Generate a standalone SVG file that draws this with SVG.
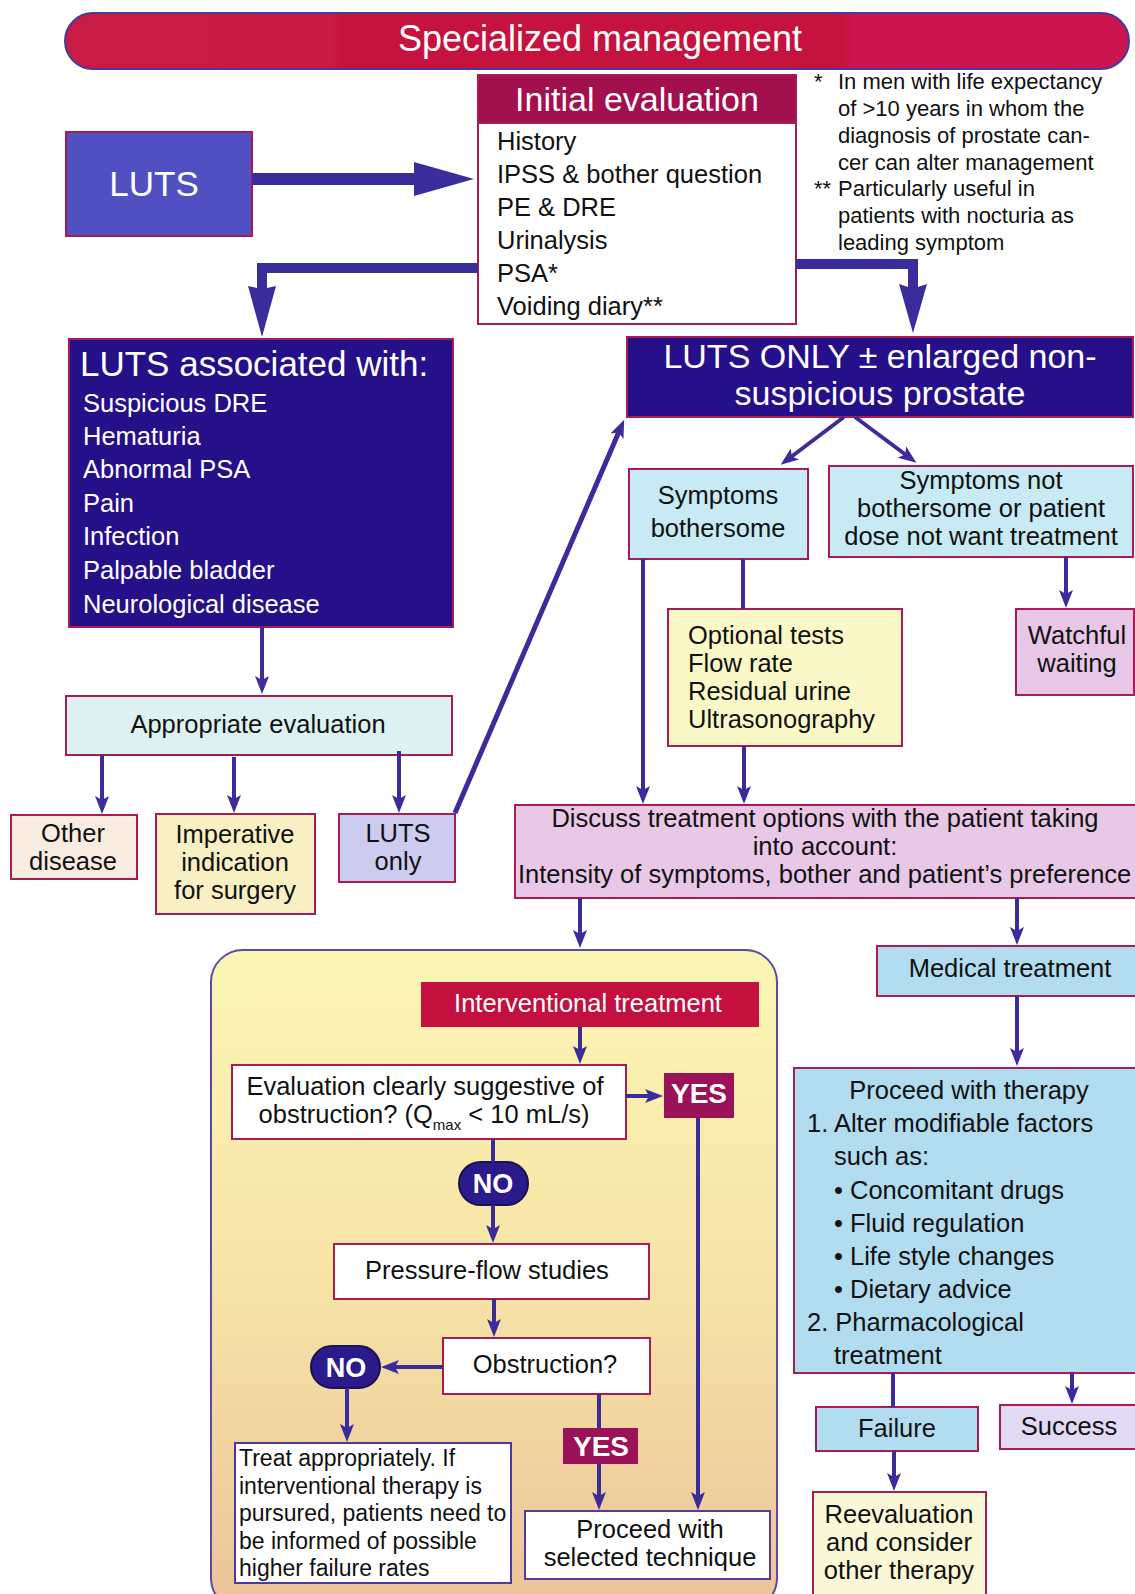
<svg xmlns="http://www.w3.org/2000/svg" width="1135" height="1594" viewBox="0 0 1135 1594">
<defs>
<linearGradient id="banner" x1="0" y1="0" x2="1" y2="0">
<stop offset="0" stop-color="#c81c46"/>
<stop offset="0.25" stop-color="#c81a46"/>
<stop offset="0.26" stop-color="#c5123e"/>
<stop offset="0.73" stop-color="#c5123e"/>
<stop offset="0.74" stop-color="#cc1450"/>
<stop offset="1" stop-color="#cc1450"/>
</linearGradient>
<linearGradient id="region" x1="0" y1="0" x2="0" y2="1">
<stop offset="0" stop-color="#fbf6b4"/>
<stop offset="0.5" stop-color="#f6e4a6"/>
<stop offset="1" stop-color="#ecc39a"/>
</linearGradient>
<marker id="ah" markerUnits="userSpaceOnUse" markerWidth="18" markerHeight="14" refX="10" refY="7" orient="auto">
<path d="M0,0 L18,7 L0,14 L4,7 z" fill="#3b2c9c"/>
</marker>
<style>
text{font-family:"Liberation Sans",Arial,sans-serif;}
.w{fill:#fff;}
.k{fill:#111;}
.t{font-size:25.5px;}
.m{text-anchor:middle;}
.b{font-weight:bold;}
.box{stroke:#a81c55;stroke-width:2;}
.con line,.con path{stroke:#3b2c9c;stroke-width:4;fill:none;}
.arr{marker-end:url(#ah);}
</style>
</defs>
<rect width="1135" height="1594" fill="#fff"/>

<g id="banner">
<rect x="65" y="13" width="1064" height="56" rx="28" fill="url(#banner)" stroke="#4a3a9a" stroke-width="2"/>
<text x="600" y="51" class="w m" font-size="36">Specialized management</text>
</g>

<g id="luts">
<rect x="66" y="132" width="186" height="104" fill="#5050c2" class="box" stroke-width="3"/>
<text x="154" y="196" class="w m" font-size="35">LUTS</text>
</g>

<g id="initial-evaluation">
<rect x="478" y="122" width="318" height="202" fill="#fff" class="box" stroke-width="3"/>
<rect x="478" y="75" width="318" height="48" fill="#a2104e" class="box" stroke-width="2"/>
<text x="637" y="111" class="w m" font-size="34">Initial evaluation</text>
<text class="k" font-size="25.5">
<tspan x="497" y="150">History</tspan>
<tspan x="497" y="183">IPSS &amp; bother question</tspan>
<tspan x="497" y="216">PE &amp; DRE</tspan>
<tspan x="497" y="249">Urinalysis</tspan>
<tspan x="497" y="282">PSA*</tspan>
<tspan x="497" y="315">Voiding diary**</tspan>
</text>
</g>

<g id="footnotes">
<text class="k" font-size="22">
<tspan x="814" y="89">*</tspan>
<tspan x="838" y="89">In men with life expectancy</tspan>
<tspan x="838" y="116">of &gt;10 years in whom the</tspan>
<tspan x="838" y="143">diagnosis of prostate can-</tspan>
<tspan x="838" y="170">cer can alter management</tspan>
<tspan x="814" y="196">**</tspan>
<tspan x="838" y="196">Particularly useful in</tspan>
<tspan x="838" y="223">patients with nocturia as</tspan>
<tspan x="838" y="250">leading symptom</tspan>
</text>
</g>

<g id="luts-associated">
<rect x="69" y="339" width="384" height="288" fill="#26108a" class="box"/>
<text x="80" y="376" class="w" font-size="35">LUTS associated with:</text>
<text class="w t">
<tspan x="83" y="412">Suspicious DRE</tspan>
<tspan x="83" y="445">Hematuria</tspan>
<tspan x="83" y="478">Abnormal PSA</tspan>
<tspan x="83" y="512">Pain</tspan>
<tspan x="83" y="545">Infection</tspan>
<tspan x="83" y="579">Palpable bladder</tspan>
<tspan x="83" y="613">Neurological disease</tspan>
</text>
</g>

<g id="appropriate-evaluation">
<rect x="66" y="696" width="386" height="59" fill="#ddf0f2" class="box"/>
<text x="258" y="733" class="k t m">Appropriate evaluation</text>
</g>

<g id="other-disease">
<rect x="11" y="815" width="126" height="64" fill="#f8ece0" class="box"/>
<text class="k t m"><tspan x="73" y="842">Other</tspan><tspan x="73" y="870">disease</tspan></text>
</g>

<g id="imperative">
<rect x="156" y="814" width="159" height="100" fill="#f8f0c2" class="box"/>
<text class="k t m"><tspan x="235" y="843">Imperative</tspan><tspan x="235" y="871">indication</tspan><tspan x="235" y="899">for surgery</tspan></text>
</g>

<g id="luts-only-small">
<rect x="339" y="814" width="116" height="68" fill="#cdcbf0" class="box"/>
<text class="k t m"><tspan x="398" y="842">LUTS</tspan><tspan x="398" y="870">only</tspan></text>
</g>

<g id="luts-only-enlarged">
<rect x="627" y="337" width="506" height="80" fill="#26108a" class="box"/>
<text class="w m" font-size="34"><tspan x="880" y="368">LUTS ONLY ± enlarged non-</tspan><tspan x="880" y="405">suspicious prostate</tspan></text>
</g>

<g id="symptoms-bothersome">
<rect x="629" y="469" width="179" height="90" fill="#c8eaf4" class="box"/>
<text class="k t m"><tspan x="718" y="504">Symptoms</tspan><tspan x="718" y="537">bothersome</tspan></text>
</g>

<g id="symptoms-not">
<rect x="829" y="466" width="304" height="91" fill="#c8eaf4" class="box"/>
<text class="k t m"><tspan x="981" y="489">Symptoms not</tspan><tspan x="981" y="517">bothersome or patient</tspan><tspan x="981" y="545">dose not want treatment</tspan></text>
</g>

<g id="watchful-waiting">
<rect x="1016" y="609" width="118" height="86" fill="#e8c8e6" class="box"/>
<text class="k t m"><tspan x="1077" y="644">Watchful</tspan><tspan x="1077" y="672">waiting</tspan></text>
</g>

<g id="optional-tests">
<rect x="668" y="609" width="234" height="137" fill="#fbf8c8" class="box"/>
<text class="k t"><tspan x="688" y="644">Optional tests</tspan><tspan x="688" y="672">Flow rate</tspan><tspan x="688" y="700">Residual urine</tspan><tspan x="688" y="728">Ultrasonography</tspan></text>
</g>

<g id="discuss">
<rect x="515" y="805" width="625" height="93" fill="#e8c8e6" class="box"/>
<text class="k t"><tspan x="825" y="827" text-anchor="middle">Discuss treatment options with the patient taking</tspan><tspan x="825" y="855" text-anchor="middle">into account:</tspan><tspan x="518" y="883">Intensity of symptoms, bother and patient’s preference</tspan></text>
</g>

<g id="interventional-region">
<rect x="211" y="950" width="566" height="660" rx="32" fill="url(#region)" stroke="#5c4aa6" stroke-width="2"/>
</g>

<g id="interventional-treatment">
<rect x="421" y="982" width="338" height="45" fill="#c4103e"/>
<text x="588" y="1012" class="w t m">Interventional treatment</text>
</g>

<g id="evaluation-obstruction">
<rect x="232" y="1065" width="394" height="74" fill="#fff" class="box"/>
<text class="k t m"><tspan x="425" y="1095">Evaluation clearly suggestive of</tspan><tspan x="424" y="1123">obstruction? (Q<tspan font-size="15" dy="7">max</tspan><tspan dy="-7"> &lt; 10 mL/s)</tspan></tspan></text>
</g>

<g id="yes-top">
<rect x="664" y="1073" width="70" height="45" fill="#9a1258"/>
<text x="699" y="1103" class="w m b" font-size="28">YES</text>
</g>

<g id="no-top">
<rect x="459" y="1162" width="69" height="43" rx="21.5" fill="#2a1a8c" stroke="#1a1050" stroke-width="2"/>
<text x="493" y="1193" class="w m b" font-size="27">NO</text>
</g>

<g id="pressure-flow">
<rect x="334" y="1244" width="315" height="55" fill="#fff" class="box"/>
<text x="487" y="1279" class="k t m">Pressure-flow studies</text>
</g>

<g id="obstruction">
<rect x="443" y="1338" width="207" height="56" fill="#fff" class="box"/>
<text x="545" y="1373" class="k t m">Obstruction?</text>
</g>

<g id="no-lower">
<rect x="311" y="1346" width="69" height="42" rx="21" fill="#2a1a8c" stroke="#1a1050" stroke-width="2"/>
<text x="346" y="1377" class="w m b" font-size="27">NO</text>
</g>

<g id="treat-appropriately">
<rect x="235" y="1443" width="276" height="140" fill="#fff" stroke="#4a3aa0" stroke-width="2"/>
<text class="k" font-size="23"><tspan x="239" y="1466">Treat appropriately. If</tspan><tspan x="239" y="1493.5">interventional therapy is</tspan><tspan x="239" y="1521">pursured, patients need to</tspan><tspan x="239" y="1548.5">be informed of possible</tspan><tspan x="239" y="1576">higher failure rates</tspan></text>
</g>

<g id="yes-lower">
<rect x="563" y="1428" width="75" height="36" fill="#9a1258"/>
<text x="601" y="1456" class="w m b" font-size="28">YES</text>
</g>

<g id="proceed-technique">
<rect x="525" y="1511" width="245" height="68" fill="#fff" stroke="#5a3aa0" stroke-width="2"/>
<text class="k t m"><tspan x="650" y="1538">Proceed with</tspan><tspan x="650" y="1566">selected technique</tspan></text>
</g>

<g id="medical-treatment">
<rect x="877" y="946" width="263" height="50" fill="#b2dcf0" class="box"/>
<text x="1010" y="977" class="k t m">Medical treatment</text>
</g>

<g id="proceed-therapy">
<rect x="794" y="1068" width="346" height="305" fill="#b2dcf0" class="box"/>
<text class="k t"><tspan x="969" y="1099" text-anchor="middle">Proceed with therapy</tspan><tspan x="807" y="1132">1. Alter modifiable factors</tspan><tspan x="834" y="1165">such as:</tspan><tspan x="834" y="1199">• Concomitant drugs</tspan><tspan x="834" y="1232">• Fluid regulation</tspan><tspan x="834" y="1265">• Life style changes</tspan><tspan x="834" y="1298">• Dietary advice</tspan><tspan x="807" y="1331">2. Pharmacological</tspan><tspan x="834" y="1364">treatment</tspan></text>
</g>

<g id="failure">
<rect x="816" y="1407" width="162" height="44" fill="#b2dcf0" class="box"/>
<text x="897" y="1437" class="k t m">Failure</text>
</g>

<g id="success">
<rect x="1000" y="1405" width="140" height="44" fill="#e2daf4" class="box"/>
<text x="1069" y="1435" class="k t m">Success</text>
</g>

<g id="reevaluation">
<rect x="813" y="1492" width="173" height="110" fill="#fbf8d8" class="box"/>
<text class="k t m"><tspan x="899" y="1523">Reevaluation</tspan><tspan x="899" y="1551">and consider</tspan><tspan x="899" y="1579">other therapy</tspan></text>
</g>

<g id="connectors" class="con">
<polygon points="252,173 414,173 414,162 474,179 414,196 414,185 252,185" fill="#3b2c9c" stroke="none"/>
<polygon points="478,263 478,273 267,273 267,288 276,286 262,337 248,286 257,288 257,263" fill="#3b2c9c" stroke="none"/>
<polygon points="796,259 918,259 918,287 927,284 913,333 899,284 908,287 908,269 796,269" fill="#3b2c9c" stroke="none"/>
<line x1="262" y1="627" x2="262" y2="686" class="arr"/>
<line x1="102" y1="755" x2="102" y2="806" class="arr"/>
<line x1="234" y1="757" x2="234" y2="805" class="arr"/>
<line x1="399" y1="751" x2="399" y2="805" class="arr"/>
<line x1="455" y1="813" x2="621" y2="427" class="arr" style="stroke-width:5"/>
<line x1="844" y1="417" x2="787" y2="460" class="arr"/>
<line x1="855" y1="417" x2="910" y2="458" class="arr"/>
<line x1="1066" y1="557" x2="1066" y2="600" class="arr"/>
<line x1="743" y1="559" x2="743" y2="609"/>
<line x1="643" y1="559" x2="643" y2="796" class="arr"/>
<line x1="744" y1="746" x2="744" y2="796" class="arr"/>
<line x1="580" y1="898" x2="580" y2="940" class="arr"/>
<line x1="1017" y1="898" x2="1017" y2="937" class="arr"/>
<line x1="1017" y1="996" x2="1017" y2="1058" class="arr"/>
<line x1="893" y1="1373" x2="893" y2="1407"/>
<line x1="1072" y1="1373" x2="1072" y2="1396" class="arr"/>
<line x1="894" y1="1451" x2="894" y2="1483" class="arr"/>
<line x1="580" y1="1027" x2="580" y2="1056" class="arr"/>
<line x1="626" y1="1096" x2="655" y2="1096" class="arr"/>
<line x1="698" y1="1118" x2="698" y2="1502" class="arr"/>
<line x1="493" y1="1139" x2="493" y2="1162"/>
<line x1="493" y1="1205" x2="493" y2="1235" class="arr"/>
<line x1="494" y1="1299" x2="494" y2="1329" class="arr"/>
<line x1="443" y1="1367" x2="389" y2="1367" class="arr"/>
<line x1="347" y1="1388" x2="347" y2="1434" class="arr"/>
<line x1="599" y1="1394" x2="599" y2="1428"/>
<line x1="599" y1="1464" x2="599" y2="1502" class="arr"/>
</g>
</svg>
